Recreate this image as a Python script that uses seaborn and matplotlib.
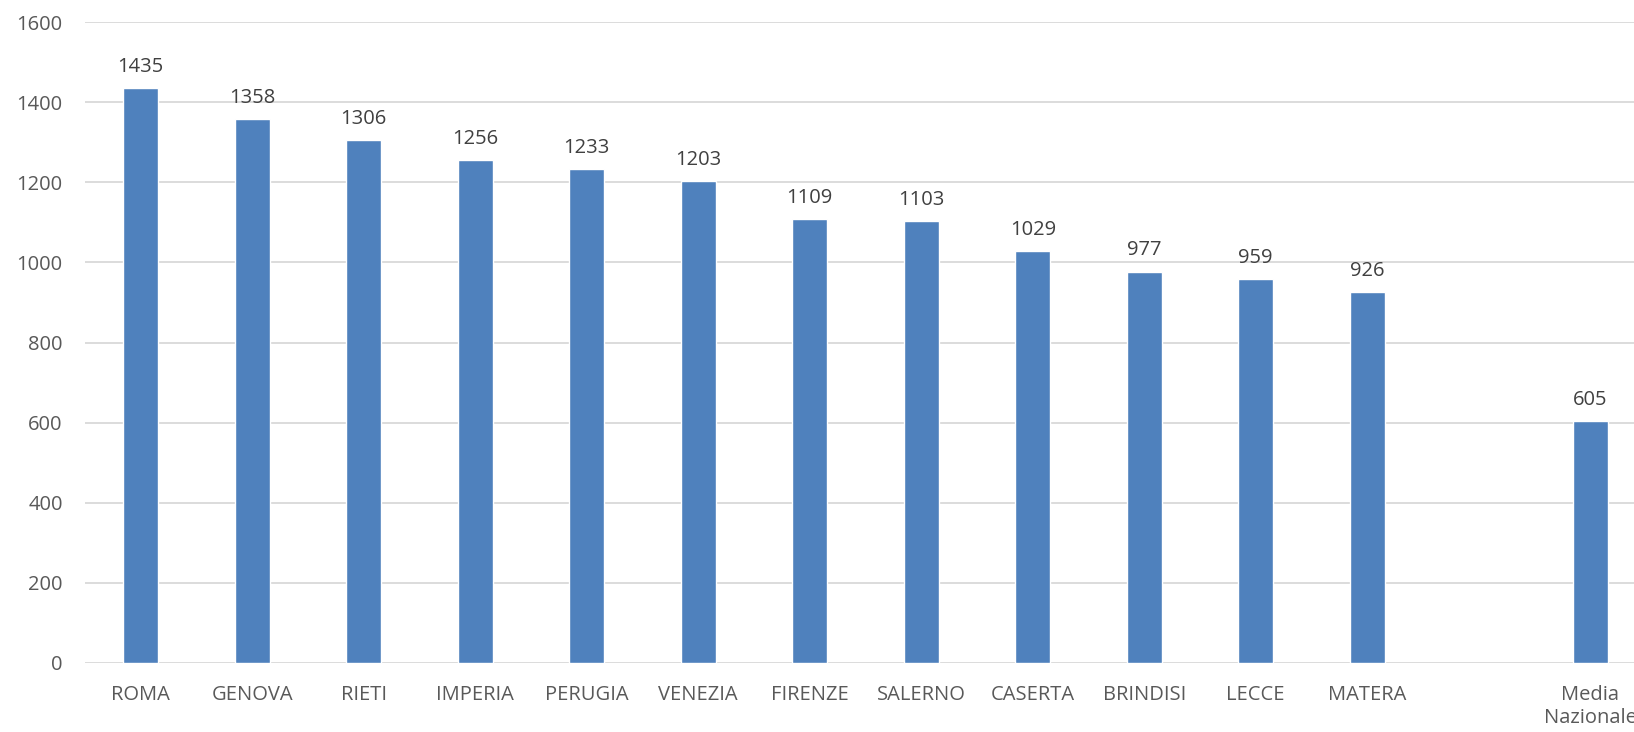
import seaborn as sns
import matplotlib.pyplot as plt
import pandas as pd

# dati
citta = ['ROMA', 'GENOVA', 'RIETI', 'IMPERIA', 'PERUGIA', 'VENEZIA', 'FIRENZE',
         'SALERNO', 'CASERTA', 'BRINDISI', 'LECCE', 'MATERA', 'Media\nNazionale']
valori = [1435, 1358, 1306, 1256, 1233, 1203, 1109, 1103, 1029, 977, 959, 926, 605]
# slot vuoti nell'asse x (spazio prima della media e dopo)
ordine = citta[:12] + [' '] + [citta[12]] + ['  ']

df = pd.DataFrame({'citta': citta, 'valore': valori})

sns.set_style('white')
plt.rcParams['font.family'] = ['Open Sans', 'DejaVu Sans']

fig = plt.figure(figsize=(16.34, 7.32), dpi=100)
# l'asse esce a destra della figura, come nell'originale tagliato
ax = fig.add_axes([85 / 1634, 69 / 732, 1672.5 / 1634, 641 / 732])

sns.barplot(data=df, x='citta', y='valore', order=ordine, color='#4f81bd',
            saturation=1, width=0.31, ax=ax, zorder=3)

ax.set_ylim(0, 1600)
ax.set_xlim(-0.5, 14.5)
ax.set_yticks(range(0, 1601, 200))
ax.grid(axis='y', color='#d9d9d9', linewidth=1.3, zorder=0)
for s in ax.spines.values():
    s.set_visible(False)
ax.tick_params(axis='x', length=0, pad=16, labelsize=14.5, labelcolor='#595959')
ax.tick_params(axis='y', length=0, pad=16, labelsize=14.5, labelcolor='#595959')
ax.set_xlabel('')
ax.set_ylabel('')

for c in ax.containers:
    ax.bar_label(c, padding=8, fontsize=14.5, color='#404040')

plt.savefig('out.png')
plt.close()
